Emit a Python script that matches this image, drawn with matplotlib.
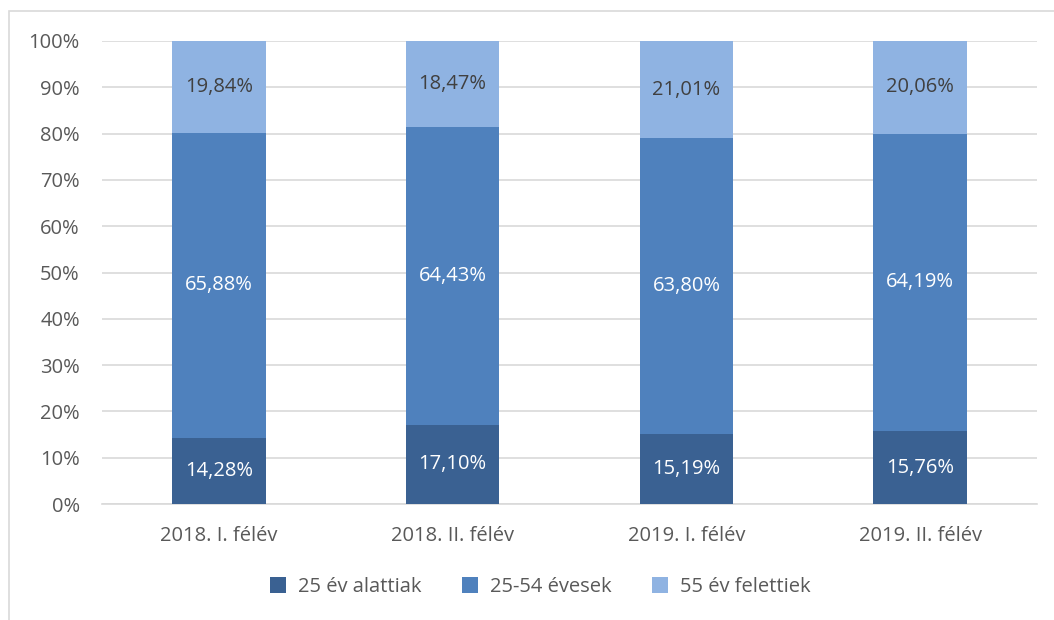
import matplotlib
matplotlib.use("Agg")
import matplotlib.pyplot as plt
from matplotlib.patches import Rectangle
import numpy as np

categories = ["2018. I. félév", "2018. II. félév", "2019. I. félév", "2019. II. félév"]
under25 = [14.28, 17.10, 15.19, 15.76]
mid25_54 = [65.88, 64.43, 63.80, 64.19]
over55 = [19.84, 18.47, 21.01, 20.06]
series_names = ["25 év alattiak", "25-54 évesek", "55 év felettiek"]

colors = ["#3a6192", "#4f81bd", "#8fb3e2"]
text_colors = ["white", "white", "#404040"]

plt.rcParams["font.family"] = ["Open Sans", "DejaVu Sans"]
fs = 14.5

fig = plt.figure(figsize=(10.54, 6.2), dpi=100)
ax = fig.add_axes([102/1054, 1 - 504/620, 935/1054, 463/620])

x = np.arange(len(categories))
bottom = np.zeros(len(categories))
for vals, name, c, tc in zip([under25, mid25_54, over55], series_names, colors, text_colors):
    v = np.array(vals)
    ax.bar(x, v, 0.4, bottom=bottom, color=c, label=name, zorder=3)
    for xi, b, h in zip(x, bottom, v):
        ax.text(xi, b + h / 2, f"{h:.2f}%".replace(".", ","), ha="center", va="center",
                color=tc, fontsize=fs, zorder=4)
    bottom += v

ax.set_xlim(-0.5, len(categories) - 0.5)
ax.set_ylim(0, 100)
ax.set_yticks(np.arange(0, 101, 10))
ax.set_yticklabels([f"{t}%" for t in range(0, 101, 10)])
ax.set_xticks(x)
ax.set_xticklabels(categories)
ax.yaxis.grid(True, color="#d9d9d9", lw=1.2, zorder=0)
for s in ["top", "right", "left"]:
    ax.spines[s].set_visible(False)
ax.spines["bottom"].set_color("#d9d9d9")
ax.spines["bottom"].set_linewidth(1.2)
ax.tick_params(axis="both", length=0, labelsize=fs, labelcolor="#595959")
ax.tick_params(axis="y", pad=16)
ax.tick_params(axis="x", pad=16)

ax.legend(loc="center", bbox_to_anchor=(540/1054, 1 - 587/620), bbox_transform=fig.transFigure,
          ncol=3, frameon=False, fontsize=fs, labelcolor="#595959",
          handlelength=0.8, handleheight=0.8, columnspacing=2.0, handletextpad=0.6)

fig.patches.append(Rectangle((9/1054, -0.05), 1.2, 1 - 11/620 + 0.05, transform=fig.transFigure,
                             fill=False, edgecolor="#d9d9d9", lw=1.2))

fig.savefig("out.png", dpi=100)
